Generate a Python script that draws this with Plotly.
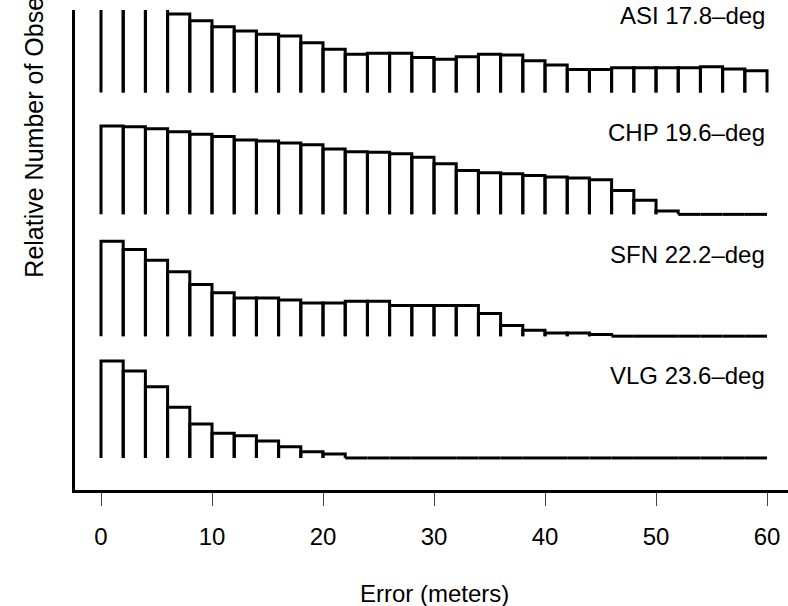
import plotly.graph_objects as go

# Histogram bin edges (meters)
bin_edges = [0, 2, 4, 6, 8, 10, 12, 14, 16, 18, 20, 22, 24, 26, 28, 30,
             32, 34, 36, 38, 40, 42, 44, 46, 48, 50, 52, 54, 56, 58, 60]

# Panel labels (top to bottom)
labels = ["ASI 17.8\u2013deg", "CHP 19.6\u2013deg", "SFN 22.2\u2013deg", "VLG 23.6\u2013deg"]

# Relative number of observations per 2 m bin
asi = [0.80, 0.74, 0.69, 0.645, 0.590, 0.540, 0.505, 0.478, 0.464, 0.409,
       0.355, 0.314, 0.322, 0.322, 0.289, 0.273, 0.294, 0.314, 0.308, 0.261,
       0.226, 0.190, 0.190, 0.204, 0.204, 0.204, 0.204, 0.212, 0.193, 0.179]
chp = [0.725, 0.720, 0.704, 0.679, 0.657, 0.640, 0.610, 0.602, 0.585, 0.572,
       0.536, 0.515, 0.511, 0.498, 0.468, 0.416, 0.361, 0.342, 0.334, 0.320,
       0.306, 0.298, 0.285, 0.197, 0.115, 0.027, 0.0, 0.0, 0.0, 0.0]
sfn = [0.780, 0.712, 0.624, 0.528, 0.424, 0.356, 0.314, 0.314, 0.296, 0.273,
       0.273, 0.287, 0.287, 0.252, 0.252, 0.252, 0.252, 0.186, 0.088, 0.049,
       0.027, 0.027, 0.014, 0.0, 0.0, 0.0, 0.0, 0.0, 0.0, 0.0]
vlg = [0.796, 0.714, 0.585, 0.416, 0.279, 0.203, 0.183, 0.140, 0.093, 0.052,
       0.033, 0.0, 0.0, 0.0, 0.0, 0.0, 0.0, 0.0, 0.0, 0.0,
       0.0, 0.0, 0.0, 0.0, 0.0, 0.0, 0.0, 0.0, 0.0, 0.0]

x_ticks = [0, 10, 20, 30, 40, 50, 60]

series = [asi, chp, sfn, vlg]
panel_offsets = [3, 2, 1, 0]          # vertical stacking of the panels
label_offsets = [0.635, 0.675, 0.672, 0.675]

FONT = "Liberation Sans, Arial, Helvetica, sans-serif"

fig = go.Figure()
for vals, base, lab, loff in zip(series, panel_offsets, labels, label_offsets):
    xs, ys = [], []
    for i, h in enumerate(vals):
        x0, x1 = bin_edges[i], bin_edges[i + 1]
        xs += [x0, x0, x1, x1, None]
        ys += [base, base + h, base + h, base, None]
    fig.add_trace(go.Scatter(x=xs, y=ys, mode="lines",
                             line=dict(color="black", width=3),
                             hoverinfo="skip", showlegend=False))
    fig.add_annotation(x=bin_edges[-1], y=base + loff, text=lab,
                       xref="x", yref="y", xanchor="right", yanchor="middle",
                       showarrow=False, font=dict(size=24, color="black", family=FONT))

fig.add_annotation(text="Relative Number of Observations", textangle=-90,
                   xref="paper", yref="paper", x=-0.058, y=0.825,
                   xanchor="center", yanchor="middle", showarrow=False,
                   font=dict(size=25, color="black", family=FONT))
fig.add_annotation(text="Error (meters)", xref="paper", yref="paper",
                   x=0.504, y=-0.216, xanchor="center", yanchor="middle",
                   showarrow=False, font=dict(size=24, color="black", family=FONT))

fig.update_layout(
    width=788, height=606,
    margin=dict(l=75, r=0, t=10, b=116),
    paper_bgcolor="white", plot_bgcolor="white",
    font=dict(family=FONT, size=24, color="black"),
    xaxis=dict(range=[-2.342, 61.89], tickvals=x_ticks, ticks="outside",
               ticklen=13, tickwidth=1, tickcolor="#444", showline=True,
               linecolor="black", linewidth=3, showgrid=False, zeroline=False,
               ticklabelstandoff=10,
               tickfont=dict(size=24, family=FONT, color="black")),
    yaxis=dict(range=[-0.263, 3.678], showticklabels=False, ticks="",
               showline=True, linecolor="black", linewidth=3,
               showgrid=False, zeroline=False),
)

fig.write_html("out.html")
